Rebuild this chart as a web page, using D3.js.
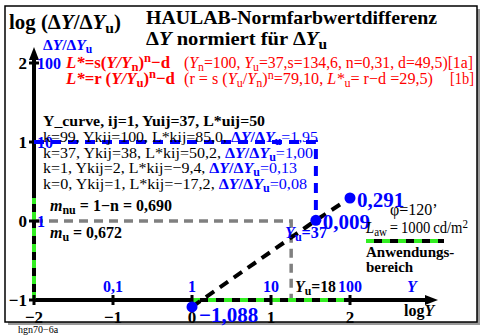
<!DOCTYPE html>
<html><head><meta charset="utf-8">
<script src="https://cdn.jsdelivr.net/npm/d3@7"></script>
<style>body{margin:0;background:#fff}svg{font-family:"Liberation Serif","Times New Roman",serif}</style>
</head><body><svg id="c" width="489" height="336"></svg>
<script>
const xTicks = [-2, -1, 0, 1, 2];
const yTicks = [-1, 0, 1, 2];
const xBlueLabels = ["0,1", "1", "10", "100"];      // Y values at log -1..2
const yBlueLabels = ["1", "10", "100"];             // ΔY/ΔYu at log 0..2
const curveLogY = [0, 1.568, 2];
const curveLogDY = [-1.088, 0.009, 0.291];
const curveLabels = ["\u22121,088", "0,009", "0,291"];
const rangeLogY = [0, 2];
const rangeLogDY = [-1, 0.291];
const logYu = Math.log10(18);
const logYu37 = Math.log10(37);
const tableRows = [
  ["k=99, Ykij=100, L*kij=85,0, ", "1,95"],
  ["k=37, Ykij=38, L*kij=50,2, ", "1,00"],
  ["k=1, Ykij=2, L*kij=\u22129,4, ", "0,13"],
  ["k=0, Ykij=1, L*kij=\u221217,2, ", "0,08"]
];
const tableWidths = [275, 270, 254, 264];

const svg = d3.select("#c");
const x = d3.scaleLinear().domain([-2, 2]).range([34, 350]);
const y = d3.scaleLinear().domain([-1, 2]).range([300, 63]);

// frame with shadow
svg.append("rect").attr("x", 8).attr("y", 9).attr("width", 472).attr("height", 316).attr("fill", "#999");
svg.append("rect").attr("x", 5).attr("y", 6).attr("width", 472).attr("height", 316).attr("fill", "#fff").attr("stroke", "#000").attr("stroke-width", 1.5);

// grey dashed reference
svg.append("path").attr("d", `M${x(-2)},${y(0)}H${x(logYu)}V${y(-1)}`)
  .attr("fill", "none").attr("stroke", "#808080").attr("stroke-width", 3.5).attr("stroke-dasharray", "9,6");

// axes
svg.append("line").attr("x1", x(-2)).attr("y1", y(-1)).attr("x2", 430).attr("y2", y(-1)).attr("stroke", "#000").attr("stroke-width", 4);
svg.append("path").attr("d", `M438,${y(-1)}l-13,-5v10z`).attr("fill", "#000");
svg.append("line").attr("x1", x(-2)).attr("y1", y(-1)).attr("x2", x(-2)).attr("y2", 56).attr("stroke", "#000").attr("stroke-width", 4);
svg.append("path").attr("d", `M${x(-2)},47l-5,13h10z`).attr("fill", "#000");

// application range (green/black dashed)
function appRange(p) {
  svg.append("path").attr("d", p).attr("fill", "none").attr("stroke", "#000").attr("stroke-width", 4);
  svg.append("path").attr("d", p).attr("fill", "none").attr("stroke", "#33ee22").attr("stroke-width", 4).attr("stroke-dasharray", "8,8");
}
appRange(`M${x(rangeLogY[0])},${y(-1)}H${x(rangeLogY[1])}`);
appRange(`M${x(-2)},${y(rangeLogDY[0])}V${y(rangeLogDY[1])}`);

// ticks
svg.selectAll(".xt").data(xTicks).join("line").attr("x1", d => x(d)).attr("x2", d => x(d))
  .attr("y1", y(-1) - 5).attr("y2", y(-1) + 5).attr("stroke", "#000").attr("stroke-width", 3);
svg.selectAll(".yt").data(yTicks).join("line").attr("y1", d => y(d)).attr("y2", d => y(d))
  .attr("x1", x(-2) - 5).attr("x2", x(-2) + 5).attr("stroke", "#000").attr("stroke-width", 3);

svg.selectAll(".xl").data(xTicks).join("text").attr("x", d => x(d)).attr("y", 323)
  .attr("text-anchor", "middle").attr("font-size", 17).attr("font-weight", "bold").text(d => d < 0 ? "\u2212" + Math.abs(d) : d);
svg.selectAll(".yl").data(yTicks).join("text").attr("x", x(-2) - 7).attr("y", d => y(d) + 6)
  .attr("text-anchor", "end").attr("font-size", 17).attr("font-weight", "bold").text(d => d < 0 ? "\u2212" + Math.abs(d) : d);

svg.selectAll(".xb").data(xBlueLabels).join("text").attr("x", (d, i) => x(i - 1)).attr("y", 292)
  .attr("text-anchor", "middle").attr("font-size", 16).attr("font-weight", "bold").attr("fill", "#0000ff").text(d => d);
svg.selectAll(".yb").data(yBlueLabels).join("text").attr("x", x(-2) + 3).attr("y", (d, i) => y(i) + 6)
  .attr("font-size", 16).attr("font-weight", "bold").attr("fill", "#0000ff").text(d => d);

// blue dashed guide at ΔY/ΔYu = 10
svg.append("path").attr("d", `M${x(-2)},${y(1)}H${x(logYu37)}V${y(curveLogDY[1])}`)
  .attr("fill", "none").attr("stroke", "#0000ff").attr("stroke-width", 4).attr("stroke-dasharray", "10,7");

// curve
const line = d3.line().x((d, i) => x(curveLogY[i])).y(d => y(d));
svg.append("path").attr("d", line(curveLogDY)).attr("fill", "none").attr("stroke", "#000")
  .attr("stroke-width", 4).attr("stroke-dasharray", "10,7");
svg.selectAll(".pt").data(curveLogDY).join("circle").attr("cx", (d, i) => x(curveLogY[i])).attr("cy", d => y(d))
  .attr("r", 5.5).attr("fill", "#0000ff");
const lblOff = [[7, 15], [7, 9], [7, 9]];
svg.selectAll(".pl").data(curveLabels).join("text").attr("x", (d, i) => x(curveLogY[i]) + lblOff[i][0])
  .attr("y", (d, i) => y(curveLogDY[i]) + lblOff[i][1]).attr("font-size", 21).attr("font-weight", "bold")
  .attr("fill", "#0000ff").text(d => d);

// helper for rich text
function rich(xp, yp, parts, base) {
  const t = svg.append("text").attr("x", xp).attr("y", yp).attr("font-size", base.size);
  if (base.weight) t.attr("font-weight", base.weight);
  if (base.fill) t.attr("fill", base.fill);
  if (base.len) t.attr("textLength", base.len).attr("lengthAdjust", "spacingAndGlyphs");
  parts.forEach(p => {
    const s = t.append("tspan").text(p.t);
    if (p.i) s.attr("font-style", "italic");
    if (p.b) s.attr("font-weight", "bold");
    if (p.c) s.attr("fill", p.c);
    if (p.sub) s.attr("baseline-shift", "-25%").attr("font-size", "75%");
    if (p.sup) s.attr("baseline-shift", "45%").attr("font-size", "75%");
  });
  return t;
}

// titles
rich(9, 29, [{t: "log (\u0394"}, {t: "Y", i: 1}, {t: "/\u0394"}, {t: "Y", i: 1}, {t: "u", sub: 1}, {t: ")"}], {size: 20, weight: "bold", len: 112});
rich(146, 24, [{t: "HAULAB-Normfarbwertdifferenz"}], {size: 19.5, weight: "bold", len: 291});
rich(146, 45, [{t: "\u0394"}, {t: "Y", i: 1}, {t: " normiert f\u00fcr \u0394"}, {t: "Y", i: 1}, {t: "u", sub: 1}], {size: 19.5, weight: "bold", len: 181});
rich(43, 50, [{t: "\u0394"}, {t: "Y", i: 1}, {t: "/\u0394"}, {t: "Y", i: 1}, {t: "u", sub: 1}], {size: 15.5, weight: "bold", fill: "#0000ff"});

// red formulas
const red = "#ff0000";
rich(66, 68, [{t: "L*", i: 1}, {t: "=s("}, {t: "Y/Y", i: 1}, {t: "n", sub: 1}, {t: ")"}, {t: "n", sup: 1}, {t: "\u2212d"}],
  {size: 17, weight: "bold", fill: red, len: 104});
rich(184, 68, [{t: "("}, {t: "Y", i: 1}, {t: "n", sub: 1}, {t: "=100, "}, {t: "Y", i: 1}, {t: "u", sub: 1},
  {t: "=37,s=134,6, n=0,31, d=49,5)[1a]"}], {size: 16, fill: red, len: 289});
rich(66, 84, [{t: "L*", i: 1}, {t: "=r ("}, {t: "Y/Y", i: 1}, {t: "u", sub: 1}, {t: ")"}, {t: "n", sup: 1}, {t: "\u2212d"}],
  {size: 17, weight: "bold", fill: red, len: 109});
rich(184, 84, [{t: "(r = s ("}, {t: "Y", i: 1}, {t: "u", sub: 1}, {t: "/"}, {t: "Y", i: 1}, {t: "n", sub: 1}, {t: ")"}, {t: "n", sup: 1},
  {t: "=79,10, "}, {t: "L*", i: 1}, {t: "u", sub: 1}, {t: "= r\u2212d =29,5)"}], {size: 16, fill: red, len: 249});
rich(450, 84, [{t: "[1b]"}], {size: 16, fill: red, len: 24});

// black table
rich(43, 126, [{t: "Y_curve, ij=1, Yuij=37, L*uij=50"}], {size: 15.5, weight: "bold", len: 222});
tableRows.forEach((r, i) => {
  rich(43, 142 + i * 15.5, [{t: r[0]}, {t: "\u0394", b: 1, c: "#0000ff"}, {t: "Y", i: 1, b: 1, c: "#0000ff"}, {t: "/\u0394", b: 1, c: "#0000ff"},
    {t: "Y", i: 1, b: 1, c: "#0000ff"}, {t: "u", sub: 1, b: 1, c: "#0000ff"}, {t: "=" + r[1], c: "#0000ff"}], {size: 15.5, len: tableWidths[i]});
});

// slopes
rich(50, 211, [{t: "m", i: 1}, {t: "nu", sub: 1}, {t: " = 1\u2212n = 0,690"}], {size: 16, weight: "bold", len: 122});
rich(50, 238, [{t: "m", i: 1}, {t: "u", sub: 1}, {t: " = 0,672"}], {size: 16, weight: "bold", len: 72});

// Yu labels
rich(285, 238, [{t: "Y", i: 1}, {t: "u", sub: 1}, {t: "=37"}], {size: 16, weight: "bold", fill: "#0000ff", len: 42});
rich(295, 292, [{t: "Y", i: 1}, {t: "u", sub: 1}, {t: "=18"}], {size: 16, weight: "bold", len: 41});
rich(407, 292, [{t: "Y", i: 1}], {size: 16, weight: "bold", fill: "#0000ff"});
rich(404, 316, [{t: "log"}, {t: "Y", i: 1}], {size: 16, weight: "bold"});

// right annotations
rich(390, 215, [{t: "\u03c6=120\u2019"}], {size: 16});
rich(366, 233, [{t: "L", i: 1}, {t: "aw", sub: 1}, {t: "\u2009=\u20091000\u2009cd/m"}, {t: "2", sup: 1}], {size: 16, len: 102});
svg.append("line").attr("x1", 366).attr("x2", 444).attr("y1", 241).attr("y2", 241).attr("stroke", "#000").attr("stroke-width", 4);
svg.append("line").attr("x1", 366).attr("x2", 444).attr("y1", 241).attr("y2", 241).attr("stroke", "#33ee22").attr("stroke-width", 4).attr("stroke-dasharray", "8,8");
rich(366, 257, [{t: "Anwendungs-"}], {size: 15, weight: "bold"});
rich(366, 272, [{t: "bereich"}], {size: 15, weight: "bold"});

svg.append("text").attr("x", 18).attr("y", 333).attr("font-size", 10).text("hgn70\u22126a");
</script></body></html>
